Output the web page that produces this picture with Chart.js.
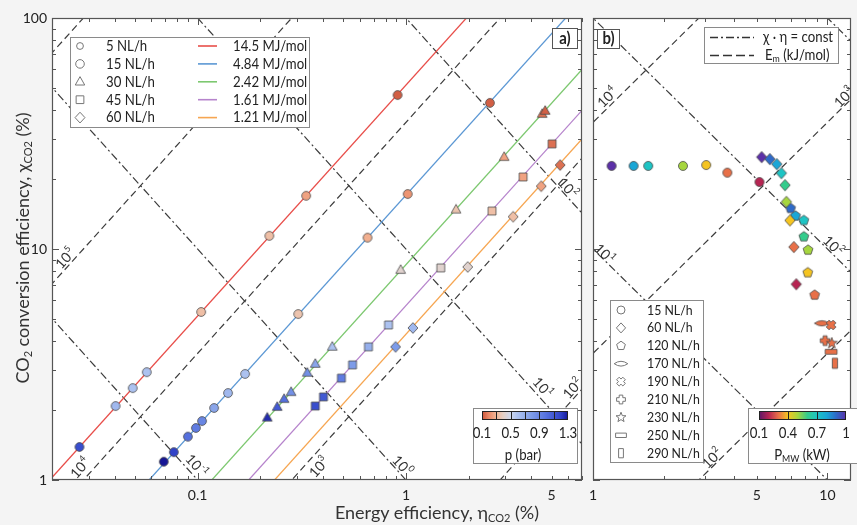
<!DOCTYPE html>
<html>
<head>
<meta charset="utf-8">
<script src="https://cdn.jsdelivr.net/npm/chart.js@4.4.1/dist/chart.umd.min.js"></script>
<style>
  body { margin: 0; background: #f4f4f4; width: 857px; height: 525px; overflow: hidden; position: relative;
         font-family: Lato, 'Open Sans', sans-serif; color: #333; }
  canvas { position: absolute; top: 0; }
  #chartA { left: 0; }
  #chartB { left: 585px; }
  .title { position: absolute; font-size: 18px; line-height: 22px; text-align: center; white-space: nowrap; }
  .title sub { font-size: 11px; vertical-align: -3px; line-height: 0; }
  #yTitle { width: 400px; left: -178px; top: 237px; transform: rotate(-90deg); }
  #xTitle { width: 400px; left: 237px; top: 501px; }
</style>
</head>
<body>
<canvas id="chartA" width="590" height="525"></canvas>
<canvas id="chartB" width="272" height="525"></canvas>
<div id="yTitle" class="title">CO<sub>2</sub> conversion efficiency, χ<sub>CO2</sub> (%)</div>
<div id="xTitle" class="title">Energy efficiency, η<sub>CO2</sub> (%)</div>
<script>
// ---------- panel a: eta (x, %), chi (y, %), pressure (bar) per flow rate
const aFlows = ['5 NL/h', '15 NL/h', '30 NL/h', '45 NL/h', '60 NL/h'];
const aEnergy = [14.5, 4.84, 2.42, 1.61, 1.21]; // MJ/mol
const aEnergyLabels = ['14.5 MJ/mol', '4.84 MJ/mol', '2.42 MJ/mol', '1.61 MJ/mol', '1.21 MJ/mol'];

const eta5 = [0.0271, 0.0404, 0.0488, 0.0570, 0.104, 0.221, 0.332, 0.912];
const chi5 = [1.39, 2.09, 2.50, 2.93, 5.34, 11.4, 17.0, 46.4];
const p5 = [1.15, 0.65, 0.6, 0.6, 0.33, 0.33, 0.25, 0.12];

const eta15 = [0.0688, 0.0769, 0.0898, 0.0981, 0.105, 0.120, 0.140, 0.169, 0.304, 0.654, 1.02, 2.53];
const chi15 = [1.20, 1.32, 1.54, 1.68, 1.80, 2.05, 2.38, 2.88, 5.23, 11.2, 17.3, 42.9];
const p15 = [1.3, 1.2, 1.0, 0.95, 0.9, 0.75, 0.65, 0.6, 0.35, 0.28, 0.22, 0.12];

const eta30 = [0.216, 0.241, 0.260, 0.281, 0.336, 0.367, 0.443, 0.943, 1.74, 2.96, 4.51, 4.66];
const chi30 = [1.86, 2.07, 2.24, 2.40, 2.91, 3.18, 3.77, 8.11, 14.8, 25.0, 38.4, 39.6];
const p30 = [1.25, 1.1, 1.0, 0.85, 0.85, 0.75, 0.6, 0.42, 0.35, 0.25, 0.15, 0.12];

const eta45 = [0.367, 0.402, 0.490, 0.554, 0.661, 0.825, 1.47, 2.59, 3.65, 5.03];
const chi45 = [2.09, 2.29, 2.76, 3.15, 3.77, 4.69, 8.28, 14.6, 20.5, 28.5];
const p45 = [1.15, 1.1, 0.95, 0.8, 0.7, 0.6, 0.42, 0.33, 0.25, 0.15];

const eta60 = [0.892, 1.08, 1.98, 3.27, 4.46, 5.50];
const chi60 = [3.77, 4.55, 8.36, 13.8, 18.7, 23.1];
const p60 = [0.8, 0.65, 0.42, 0.33, 0.25, 0.15];

// ---------- panel b: eta, chi, microwave power (kW) per flow rate
const bFlows = ['15 NL/h', '60 NL/h', '120 NL/h', '170 NL/h', '190 NL/h', '210 NL/h', '230 NL/h', '250 NL/h', '290 NL/h'];
const bEta15 = [1.20, 1.49, 1.72, 2.42, 3.04, 3.74, 5.13];
const bChi15 = [22.9, 22.9, 22.9, 22.9, 23.1, 21.4, 19.5];
const bP15 = [1.0, 0.8, 0.7, 0.5, 0.4, 0.3, 0.2];
const bEta60 = [5.24, 5.68, 6.08, 6.36, 6.59, 6.68, 6.92, 7.19, 7.36];
const bChi60 = [25.0, 24.5, 23.3, 21.3, 18.9, 16.0, 13.3, 10.2, 7.04];
const bP60 = [1.0, 0.9, 0.8, 0.7, 0.6, 0.5, 0.4, 0.3, 0.2];
const bEta120 = [6.96, 7.31, 7.93, 7.93, 8.26, 8.24, 8.82];
const bChi120 = [15.0, 13.9, 13.3, 11.3, 9.9, 7.9, 6.32];
const bP120 = [0.9, 0.8, 0.7, 0.6, 0.5, 0.4, 0.3];
const bEtaHigh = [9.46, 10.36, 9.77, 10.43, 10.36, 10.76]; // 170..290 NL/h
const bChiHigh = [4.77, 4.69, 4.01, 3.91, 3.59, 3.20];
const bPHigh = [0.3, 0.3, 0.3, 0.3, 0.3, 0.3];

// ---------- reference lines
const dH = 283; // kJ/mol
const emLevels = [1e2, 1e3, 1e4, 1e5, 1e6];      // E_m (kJ/mol), dashed
const prodLevels = [0.1, 1, 10, 100, 1000];      // chi * eta, dash-dot
const aXTickLabels = [0.1, 1, 5];
const bXTickLabels = [1, 5, 10];
const yTickLabels = [1, 10, 100];
const aPressureTicks = [0.1, 0.5, 0.9, 1.3];
const bPowerTicks = [0.1, 0.4, 0.7, 1];

// label anchors for the reference lines: [kind, exponent, eta, chi]
const aLineLabels = [
  ['em', '5', 0.0230, 9.14], ['em', '4', 0.0271, 1.13], ['pr', '-1', 0.0992, 1.16],
  ['em', '3', 0.380, 1.14], ['pr', '0', 0.964, 1.16], ['pr', '1', 4.55, 2.53],
  ['em', '2', 6.28, 2.50], ['pr', '2', 6.01, 18.5]
];
const bLineLabels = [
  ['em', '4', 1.145, 45.5], ['em', '3', 11.7, 45.5], ['pr', '1', 1.123, 9.61],
  ['pr', '2', 10.6, 10.4], ['em', '2', 3.20, 1.245]
];

// ---------- styles
const FONT = 'Lato, "Open Sans", sans-serif';
const SX = 0.88; // narrow the legend text a little
Chart.defaults.font.family = FONT;
Chart.defaults.color = '#222';
const energyColors = ['rgb(232,78,74)', 'rgb(92,152,212)', 'rgb(125,200,112)', 'rgb(182,132,204)', 'rgb(246,166,82)'];
const aShapes = ['circle', 'circle', 'triangle', 'square', 'diamond'];
const bShapes = ['circle', 'diamond', 'pentagon', 'lens', 'xcross', 'plus', 'star', 'hrect', 'vrect'];

const pStops = [[0.1, [204, 84, 58]], [0.2, [236, 140, 106]], [0.3, [243, 184, 152]], [0.4, [228, 208, 198]],
  [0.5, [206, 216, 238]], [0.6, [172, 194, 240]], [0.8, [125, 155, 232]], [1.0, [85, 112, 222]],
  [1.2, [48, 66, 200]], [1.3, [22, 22, 150]]];
const wStops = [[0.1, [92, 22, 104]], [0.2, [182, 36, 82]], [0.3, [232, 112, 72]], [0.4, [245, 196, 32]],
  [0.5, [166, 214, 62]], [0.6, [52, 204, 140]], [0.7, [30, 196, 196]], [0.8, [26, 166, 214]],
  [0.9, [46, 106, 200]], [1.0, [92, 48, 168]]];

function ramp(stops, v) {
  if (v <= stops[0][0]) return 'rgb(' + stops[0][1].join(',') + ')';
  for (let i = 1; i < stops.length; i++) {
    if (v <= stops[i][0]) {
      const [v0, c0] = stops[i - 1], [v1, c1] = stops[i];
      const t = (v - v0) / (v1 - v0);
      return 'rgb(' + c0.map((c, k) => Math.round(c + (c1[k] - c) * t)).join(',') + ')';
    }
  }
  return 'rgb(' + stops[stops.length - 1][1].join(',') + ')';
}

function tracePath(ctx, shape, x, y, s) {
  ctx.beginPath();
  const poly = pts => { pts.forEach(([px, py], i) => i ? ctx.lineTo(x + px, y + py) : ctx.moveTo(x + px, y + py)); };
  if (shape === 'circle') ctx.arc(x, y, s, 0, Math.PI * 2);
  else if (shape === 'triangle') poly([[0, -s * 1.2], [s * 1.1, s * 0.75], [-s * 1.1, s * 0.75]]);
  else if (shape === 'square') ctx.rect(x - s * 0.9, y - s * 0.9, s * 1.8, s * 1.8);
  else if (shape === 'diamond') poly([[0, -s * 1.25], [s * 1.15, 0], [0, s * 1.25], [-s * 1.15, 0]]);
  else if (shape === 'pentagon') {
    const pts = [];
    for (let i = 0; i < 5; i++) { const a = -Math.PI / 2 + i * 2 * Math.PI / 5; pts.push([Math.cos(a) * s * 1.15, Math.sin(a) * s * 1.15]); }
    poly(pts);
  } else if (shape === 'lens') {
    ctx.moveTo(x - s * 1.7, y);
    ctx.quadraticCurveTo(x, y - s * 1.2, x + s * 1.7, y);
    ctx.quadraticCurveTo(x, y + s * 1.2, x - s * 1.7, y);
  } else if (shape === 'plus' || shape === 'xcross') {
    const w = s * 0.45, l = s * 1.1, pts = [[-w, -l], [w, -l], [w, -w], [l, -w], [l, w], [w, w], [w, l], [-w, l], [-w, w], [-l, w], [-l, -w], [-w, -w]];
    if (shape === 'xcross') { const c = Math.SQRT1_2; poly(pts.map(([px, py]) => [(px - py) * c, (px + py) * c])); }
    else poly(pts);
  } else if (shape === 'star') {
    const pts = [];
    for (let i = 0; i < 10; i++) { const a = -Math.PI / 2 + i * Math.PI / 5, r = i % 2 ? s * 0.55 : s * 1.3; pts.push([Math.cos(a) * r, Math.sin(a) * r]); }
    poly(pts);
  } else if (shape === 'hrect') ctx.rect(x - s * 1.35, y - s * 0.55, s * 2.7, s * 1.1);
  else if (shape === 'vrect') ctx.rect(x - s * 0.6, y - s * 1.15, s * 1.2, s * 2.3);
  ctx.closePath();
}

const markerCache = {};
function marker(shape, color, s) {
  const key = shape + color + s;
  if (!markerCache[key]) {
    const c = document.createElement('canvas');
    const d = Math.ceil(s * 4) + 2;
    c.width = d; c.height = d;
    const g = c.getContext('2d');
    tracePath(g, shape, d / 2, d / 2, s);
    g.fillStyle = color; g.fill();
    g.lineWidth = 0.8; g.strokeStyle = '#4a4a4a'; g.stroke();
    markerCache[key] = c;
  }
  return markerCache[key];
}

function pointSet(eta, chi, vals, shapeOf, stops, size) {
  return {
    data: eta.map((e, j) => ({ x: e, y: chi[j] })),
    pointStyle: vals.map((v, j) => marker(shapeOf(j), ramp(stops, v), size)),
    pointRadius: 5, showLine: false, order: 0
  };
}

function refLine(kind, level, range, color, dash, width) {
  const lo = range[0] / 10, hi = range[1] * 10;
  const f = kind === 'em' ? e => level / dH * e : e => level / e;
  return {
    data: [{ x: lo, y: f(lo) }, { x: hi, y: f(hi) }],
    showLine: true, pointRadius: 0, borderColor: color, borderWidth: width,
    borderDash: dash, clip: 0, order: 1
  };
}

const DASH = [7, 4], DASHDOT = [8, 3, 2, 3];
const X_A = [0.02, 7], X_B = [1, 12.6];

function logTicks(min, max) {
  const out = [];
  for (let d = Math.pow(10, Math.floor(Math.log10(min))); d <= max; d *= 10)
    for (let k = 1; k < 10; k++) {
      const v = +(k * d).toPrecision(3);
      if (v >= min * 0.999 && v <= max * 1.001) out.push([v, k === 1 ? 7 : 4]);
    }
  return out;
}

function powerLabel(ctx, cx, cy, ang, exp) {
  ctx.save();
  ctx.translate(cx, cy); ctx.rotate(ang);
  ctx.fillStyle = '#333'; ctx.textBaseline = 'middle'; ctx.textAlign = 'left';
  ctx.font = '14px ' + FONT; const w1 = ctx.measureText('10').width;
  ctx.font = '9px ' + FONT; const w2 = ctx.measureText(exp).width;
  const x0 = -(w1 + w2) / 2;
  ctx.font = '14px ' + FONT; ctx.fillText('10', x0, 1);
  ctx.font = '9px ' + FONT; ctx.fillText(exp, x0 + w1 + 0.5, -4);
  ctx.restore();
}

function box(ctx, x, y, w, h, col) {
  ctx.fillStyle = '#fff'; ctx.fillRect(x, y, w, h);
  ctx.strokeStyle = col || '#8a8a8a'; ctx.lineWidth = 1; ctx.strokeRect(x + 0.5, y + 0.5, w - 1, h - 1);
}

// text made of [string, isSubscript] parts, narrowed by SX
function label(ctx, parts, x, y, align, size, bold) {
  size = size || 14;
  const fnt = p => (bold ? 'bold ' : '') + (p[1] ? Math.round(size * 0.68) : size) + 'px ' + FONT;
  let w = 0;
  parts.forEach(p => { ctx.font = fnt(p); w += ctx.measureText(p[0]).width; });
  ctx.save();
  ctx.translate(x, y); ctx.scale(SX, 1);
  let cx = align === 'center' ? -w / 2 : 0;
  ctx.textAlign = 'left'; ctx.textBaseline = 'middle'; ctx.fillStyle = '#222';
  parts.forEach(p => { ctx.font = fnt(p); ctx.fillText(p[0], cx, p[1] ? 4 : 0); cx += ctx.measureText(p[0]).width; });
  ctx.restore();
}

function colorbar(ctx, x0, x1, y0, stops, vmin, vmax, ticks, dividers) {
  for (let px = x0; px < x1; px++) {
    ctx.fillStyle = ramp(stops, vmin + (px - x0 + 0.5) / (x1 - x0) * (vmax - vmin));
    ctx.fillRect(px, y0, 1, 9);
  }
  ctx.strokeStyle = '#222'; ctx.lineWidth = 1;
  ctx.strokeRect(x0 + 0.5, y0 + 0.5, x1 - x0 - 1, 8);
  ctx.beginPath();
  dividers.forEach(v => { const px = Math.round(x0 + (v - vmin) / (vmax - vmin) * (x1 - x0)) + 0.5; ctx.moveTo(px, y0); ctx.lineTo(px, y0 + 9); });
  ctx.stroke();
  ticks.forEach(v => label(ctx, [[String(v), false]], x0 + (v - vmin) / (vmax - vmin) * (x1 - x0), y0 + 22, 'center', 15));
}

function panelPlugin(opt) {
  return {
    id: 'panel' + opt.tag,
    beforeDraw(chart) {
      const a = chart.chartArea;
      chart.ctx.fillStyle = '#fff';
      chart.ctx.fillRect(a.left, a.top, a.right - a.left, a.bottom - a.top);
    },
    afterDatasetsDraw(chart) {
      const { ctx, chartArea: a, scales: { x, y } } = chart;
      ctx.save();
      // inward ticks on all four sides
      ctx.strokeStyle = '#555'; ctx.lineWidth = 1; ctx.beginPath();
      logTicks(opt.xr[0], opt.xr[1]).forEach(([v, len]) => {
        const px = Math.round(x.getPixelForValue(v)) + 0.5;
        ctx.moveTo(px, a.bottom); ctx.lineTo(px, a.bottom - len);
        ctx.moveTo(px, a.top); ctx.lineTo(px, a.top + len);
      });
      logTicks(1, 100).forEach(([v, len]) => {
        const py = Math.round(y.getPixelForValue(v)) + 0.5;
        ctx.moveTo(a.left, py); ctx.lineTo(a.left + len, py);
        ctx.moveTo(a.right, py); ctx.lineTo(a.right - len, py);
      });
      ctx.stroke();
      ctx.strokeStyle = '#555'; ctx.lineWidth = 1.2;
      ctx.strokeRect(a.left + 0.5, a.top + 0.5, a.right - a.left - 1, a.bottom - a.top - 1);

      // labels on the reference lines
      const angUp = Math.atan2(y.getPixelForValue(10) - y.getPixelForValue(1), x.getPixelForValue(10) - x.getPixelForValue(1));
      opt.lineLabels.forEach(([kind, exp, e, c]) => {
        powerLabel(ctx, x.getPixelForValue(e), y.getPixelForValue(c), kind === 'em' ? angUp : -angUp, exp);
      });

      ctx.translate(-opt.ox, 0);
      opt.extras(ctx);
      ctx.restore();
    }
  };
}

function logAxis(min, max, labels, isX, show) {
  return {
    type: 'logarithmic', min, max, display: show,
    grid: { display: false, drawTicks: false }, border: { display: false },
    afterBuildTicks: s => { s.ticks = labels.map(v => ({ value: v })); },
    ticks: { callback: v => String(v), padding: isX ? 7 : 5, autoSkip: false, maxRotation: 0, minRotation: 0, font: { size: 14 }, color: '#222' },
    afterFit: s => {
      if (!show) return;
      if (isX) s.height = 45; else s.width = 40;
      s.paddingLeft = 0; s.paddingRight = 0; s.paddingTop = 0; s.paddingBottom = 0;
    }
  };
}

// ---------- panel a
const aEta = [eta5, eta15, eta30, eta45, eta60];
const aChi = [chi5, chi15, chi30, chi45, chi60];
const aP = [p5, p15, p30, p45, p60];
const aDatasets = aEta.map((eta, i) => pointSet(eta, aChi[i], aP[i], () => aShapes[i], pStops, i === 4 ? 4.3 : 4.4))
  .concat(aEnergy.map((E, i) => refLine('em', E * 1000, X_A, energyColors[i], [], 1.3)))
  .concat(emLevels.map(v => refLine('em', v, X_A, '#3c3c3c', DASH, 1.2)))
  .concat(prodLevels.map(v => refLine('pr', v, X_A, '#3c3c3c', DASHDOT, 1.2)));

function extrasA(ctx) {
  box(ctx, 70, 37, 240, 91);
  aFlows.forEach((f, i) => {
    const yy = 46 + i * 17.9;
    tracePath(ctx, aShapes[i], 80, yy, i === 0 ? 3.4 : 4.3);
    ctx.strokeStyle = '#777'; ctx.lineWidth = 1; ctx.stroke();
    label(ctx, [[f, false]], 106, yy, 'left', 15);
    ctx.strokeStyle = energyColors[i]; ctx.lineWidth = 1.6; ctx.beginPath();
    ctx.moveTo(198, yy); ctx.lineTo(217, yy); ctx.stroke();
    label(ctx, [[aEnergyLabels[i], false]], 233, yy, 'left', 15);
  });
  box(ctx, 552, 28, 26, 21, '#555');
  label(ctx, [['a)', false]], 565, 39, 'center', 17, true);
  box(ctx, 473, 408, 105, 56);
  colorbar(ctx, 482, 568, 411, pStops, 0.1, 1.3, aPressureTicks, [0.3, 0.5, 0.7, 0.9, 1.1]);
  label(ctx, [['p (bar)', false]], 523, 455, 'center', 15);
}

new Chart(document.getElementById('chartA'), {
  type: 'scatter',
  data: { datasets: aDatasets },
  options: {
    responsive: false, animation: false, devicePixelRatio: 1, events: [],
    layout: { padding: { left: 12, top: 18, right: 8, bottom: 0 } },
    plugins: { legend: { display: false }, tooltip: { enabled: false } },
    scales: { x: logAxis(X_A[0], X_A[1], aXTickLabels, true, true), y: logAxis(1, 100, yTickLabels, false, true) }
  },
  plugins: [panelPlugin({ tag: 'a', ox: 0, xr: X_A, lineLabels: aLineLabels, extras: extrasA })]
});

// ---------- panel b
const bEta = [bEta15, bEta60, bEta120];
const bChi = [bChi15, bChi60, bChi120];
const bP = [bP15, bP60, bP120];
const bDatasets = bEta.map((eta, i) => pointSet(eta, bChi[i], bP[i], () => bShapes[i], wStops, 4.5))
  .concat([pointSet(bEtaHigh, bChiHigh, bPHigh, j => bShapes[3 + j], wStops, 4.4)])
  .concat(emLevels.map(v => refLine('em', v, X_B, '#3c3c3c', DASH, 1.2)))
  .concat(prodLevels.map(v => refLine('pr', v, X_B, '#3c3c3c', DASHDOT, 1.2)));

function extrasB(ctx) {
  box(ctx, 704, 27, 135, 37);
  ctx.strokeStyle = '#333'; ctx.lineWidth = 1.5;
  ctx.setLineDash(DASHDOT); ctx.beginPath(); ctx.moveTo(710, 37.5); ctx.lineTo(754, 37.5); ctx.stroke();
  ctx.setLineDash([9, 4]); ctx.beginPath(); ctx.moveTo(710, 55.5); ctx.lineTo(754, 55.5); ctx.stroke();
  ctx.setLineDash([]);
  label(ctx, [['χ · η = const', false]], 763, 37, 'left', 15);
  label(ctx, [['E', false], ['m', true], [' (kJ/mol)', false]], 765, 55, 'left', 15);

  box(ctx, 597, 29, 23, 20, '#555');
  label(ctx, [['b)', false]], 608.5, 39, 'center', 17, true);

  box(ctx, 610, 300, 94, 163);
  bFlows.forEach((f, i) => {
    const yy = 310 + i * 17.9;
    tracePath(ctx, bShapes[i], 621, yy, 4);
    ctx.strokeStyle = '#777'; ctx.lineWidth = 1; ctx.stroke();
    label(ctx, [[f, false]], 647, yy, 'left', 14);
  });

  box(ctx, 748, 408, 110, 56);
  colorbar(ctx, 759, 846, 411, wStops, 0.1, 1.0, bPowerTicks, [0.4, 0.7]);
  label(ctx, [['P', false], ['MW', true], [' (kW)', false]], 802, 455, 'center', 15);
}

new Chart(document.getElementById('chartB'), {
  type: 'scatter',
  data: { datasets: bDatasets },
  options: {
    responsive: false, animation: false, devicePixelRatio: 1, events: [],
    layout: { padding: { left: 8, top: 18, right: 2, bottom: 0 } },
    plugins: { legend: { display: false }, tooltip: { enabled: false } },
    scales: { x: logAxis(X_B[0], X_B[1], bXTickLabels, true, true), y: logAxis(1, 100, yTickLabels, false, false) }
  },
  plugins: [panelPlugin({ tag: 'b', ox: 585, xr: X_B, lineLabels: bLineLabels, extras: extrasB })]
});
</script>
</body>
</html>
